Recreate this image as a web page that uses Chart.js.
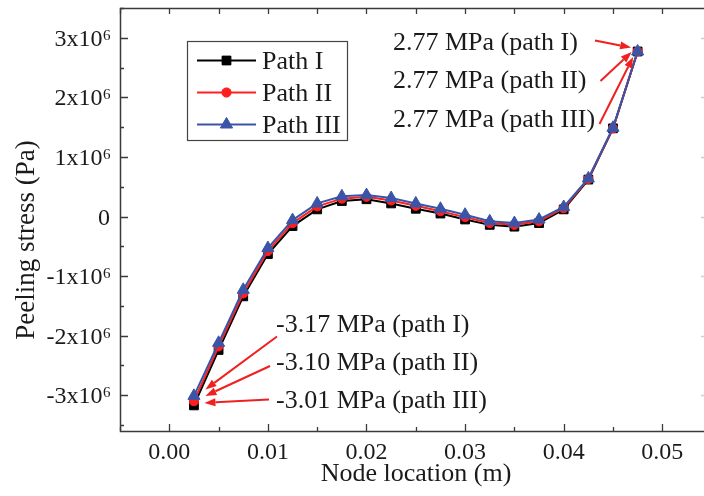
<!DOCTYPE html>
<html>
<head>
<meta charset="utf-8">
<script src="https://cdn.jsdelivr.net/npm/chart.js@4.4.1/dist/chart.umd.min.js"></script>
<style>
html,body{margin:0;padding:0;background:#fff;overflow:hidden;}
canvas{display:block;}
</style>
</head>
<body>
<canvas id="c" width="704" height="496"></canvas>
<script>
// ---- data ----
const nodeLocation = [0.0025, 0.005, 0.0075, 0.01, 0.0125, 0.015, 0.0175, 0.02, 0.0225, 0.025,
                      0.0275, 0.03, 0.0325, 0.035, 0.0375, 0.04, 0.0425, 0.045, 0.0475];
const pathI   = [-3.17e6, -2.24e6, -1.34e6, -0.63e6, -0.16e6, 0.12e6, 0.26e6, 0.29e6, 0.22e6, 0.13e6,
                  0.05e6, -0.05e6, -0.14e6, -0.17e6, -0.11e6, 0.12e6, 0.62e6, 1.48e6, 2.77e6];
const pathII  = [-3.10e6, -2.18e6, -1.29e6, -0.58e6, -0.11e6, 0.17e6, 0.30e6, 0.33e6, 0.27e6, 0.18e6,
                  0.09e6, -0.01e6, -0.11e6, -0.14e6, -0.08e6, 0.14e6, 0.63e6, 1.48e6, 2.77e6];
const pathIII = [-3.01e6, -2.12e6, -1.23e6, -0.53e6, -0.06e6, 0.22e6, 0.34e6, 0.36e6, 0.31e6, 0.22e6,
                  0.13e6, 0.03e6, -0.08e6, -0.11e6, -0.05e6, 0.16e6, 0.64e6, 1.49e6, 2.77e6];
const seriesNames = ['Path I', 'Path II', 'Path III'];
const xTickValues = [0, 0.01, 0.02, 0.03, 0.04, 0.05];
const xTickLabels = ['0.00', '0.01', '0.02', '0.03', '0.04', '0.05'];
const yTickValues = [-3e6, -2e6, -1e6, 0, 1e6, 2e6, 3e6];
const yTickLabels = ['-3x10^6', '-2x10^6', '-1x10^6', '0', '1x10^6', '2x10^6', '3x10^6'];
const xTitle = 'Node location (m)';
const yTitle = 'Peeling stress (Pa)';
const topNotes = ['2.77 MPa (path I)', '2.77 MPa (path II)', '2.77 MPa (path III)'];
const bottomNotes = ['-3.17 MPa (path I)', '-3.10 MPa (path II)', '-3.01 MPa (path III)'];

// ---- styles ----
const FONT = '"Liberation Serif", "Times New Roman", serif';
const TXT = '#1a1a1a';
const AX = '#3a3a3a';
const RED = '#f02020';
const colors = ['#000000', '#ff1f1f', '#3a55a8'];
const styles = [
  {pointStyle: 'rect', radius: 6.2},
  {pointStyle: 'circle', radius: 4.6},
  {pointStyle: 'triangle', radius: 7}
];
const seriesData = [pathI, pathII, pathIII];

function toPoints(ys) { return nodeLocation.map((x, i) => ({x: x, y: ys[i]})); }

const datasets = seriesData.map((ys, i) => ({
  label: seriesNames[i],
  data: toPoints(ys),
  borderColor: colors[i],
  backgroundColor: colors[i],
  pointBackgroundColor: colors[i],
  pointBorderColor: colors[i],
  borderWidth: 2,
  pointStyle: styles[i].pointStyle,
  pointRadius: styles[i].radius,
  pointBorderWidth: 1,
  tension: 0,
  order: 3 - i
}));

function arrow(ctx, x1, y1, x2, y2) {
  const ang = Math.atan2(y2 - y1, x2 - x1);
  const L = 11, W = 4;
  const bx = x2 - L * Math.cos(ang), by = y2 - L * Math.sin(ang);
  ctx.beginPath();
  ctx.moveTo(x1, y1);
  ctx.lineTo(bx, by);
  ctx.stroke();
  ctx.beginPath();
  ctx.moveTo(x2, y2);
  ctx.lineTo(bx + W * Math.sin(ang), by - W * Math.cos(ang));
  ctx.lineTo(bx - W * Math.sin(ang), by + W * Math.cos(ang));
  ctx.closePath();
  ctx.fill();
}

const decor = {
  id: 'decor',
  afterDatasetsDraw(chart) {
    const {ctx, chartArea: a, scales: {x, y}} = chart;
    ctx.save();
    // frame
    ctx.strokeStyle = AX;
    ctx.lineWidth = 1.5;
    ctx.beginPath();
    ctx.moveTo(a.right, a.top + 0.5);
    ctx.lineTo(a.left + 0.5, a.top + 0.5);
    ctx.lineTo(a.left + 0.5, a.bottom + 0.5);
    ctx.lineTo(a.right, a.bottom + 0.5);
    ctx.stroke();

    // inward ticks
    ctx.lineWidth = 1.3;
    ctx.beginPath();
    for (let i = -1; i <= 11; i++) {
      const v = i * 0.005;
      if (v < x.min - 1e-9 || v > x.max) continue;
      const px = Math.round(x.getPixelForValue(v)) + 0.5;
      const major = i % 2 === 0;
      ctx.moveTo(px, a.bottom);
      ctx.lineTo(px, a.bottom - (major ? 7 : 4));
      ctx.moveTo(px, a.top);
      ctx.lineTo(px, a.top + 6);
    }
    for (let i = -7; i <= 7; i++) {
      const v = i * 0.5e6;
      if (v < y.min || v > y.max + 1) continue;
      const py = Math.round(y.getPixelForValue(v)) + 0.5;
      const major = i % 2 === 0;
      ctx.moveTo(a.left, py);
      ctx.lineTo(a.left + (major ? 8 : 4), py);
    }
    ctx.stroke();
    // faint right-side ticks (axis cut at image edge)
    ctx.strokeStyle = '#cfcfcf';
    ctx.beginPath();
    for (let i = -6; i <= 6; i += 2) {
      const py = Math.round(y.getPixelForValue(i * 0.5e6)) + 0.5;
      ctx.moveTo(a.right, py);
      ctx.lineTo(a.right - 3, py);
    }
    ctx.stroke();

    // x tick labels
    ctx.fillStyle = TXT;
    ctx.font = '24px ' + FONT;
    ctx.textAlign = 'center';
    ctx.textBaseline = 'middle';
    xTickValues.forEach((v, i) => {
      ctx.fillText(xTickLabels[i], x.getPixelForValue(v), 452.5);
    });

    // y tick labels with superscript exponent
    ctx.textBaseline = 'alphabetic';
    ctx.textAlign = 'left';
    const rightEdge = 110;
    yTickValues.forEach((v, i) => {
      const py = y.getPixelForValue(v);
      const parts = yTickLabels[i].split('^');
      ctx.font = '24px ' + FONT;
      const w1 = ctx.measureText(parts[0]).width;
      let w2 = 0;
      if (parts[1]) { ctx.font = '15px ' + FONT; w2 = ctx.measureText(parts[1]).width; }
      const x0 = rightEdge - w1 - w2;
      ctx.font = '24px ' + FONT;
      ctx.fillText(parts[0], x0, py + 8);
      if (parts[1]) {
        ctx.font = '15px ' + FONT;
        ctx.fillText(parts[1], x0 + w1 + 0.5, py + 2);
      }
    });

    // axis titles
    ctx.font = '26px ' + FONT;
    ctx.textAlign = 'center';
    ctx.textBaseline = 'alphabetic';
    ctx.fillText(xTitle, 416, 481);
    ctx.save();
    ctx.translate(34, 240);
    ctx.rotate(-Math.PI / 2);
    ctx.font = '27px ' + FONT;
    ctx.fillText(yTitle, 0, 0);
    ctx.restore();

    // legend
    const lg = {l: 187.5, t: 41.5, r: 347.5, b: 140.5};
    ctx.fillStyle = '#ffffff';
    ctx.fillRect(lg.l, lg.t, lg.r - lg.l, lg.b - lg.t);
    ctx.strokeStyle = '#444';
    ctx.lineWidth = 1.2;
    ctx.strokeRect(lg.l, lg.t, lg.r - lg.l, lg.b - lg.t);
    const rows = [60.5, 92.5, 124.5];
    chart.data.datasets.forEach((ds, i) => {
      const ry = rows[i];
      ctx.strokeStyle = ds.borderColor;
      ctx.fillStyle = ds.backgroundColor;
      ctx.lineWidth = 2;
      ctx.beginPath();
      ctx.moveTo(197, ry);
      ctx.lineTo(256, ry);
      ctx.stroke();
      ctx.lineWidth = 1;
      Chart.helpers.drawPoint(ctx, {pointStyle: ds.pointStyle, radius: ds.pointRadius, rotation: 0, borderWidth: 1}, 226.5, ry);
      ctx.fill();
      ctx.fillStyle = TXT;
      ctx.font = '26px ' + FONT;
      ctx.textAlign = 'left';
      ctx.fillText(ds.label, 262, ry + 8.6);
    });

    // annotations
    ctx.fillStyle = TXT;
    ctx.font = '26px ' + FONT;
    ctx.textAlign = 'left';
    const topBase = [50, 88.3, 126.6];
    topNotes.forEach((t, i) => ctx.fillText(t, 393, topBase[i]));
    const botBase = [332, 370, 408];
    bottomNotes.forEach((t, i) => ctx.fillText(t, 276, botBase[i]));

    // arrows, anchored to the end data points via scales
    ctx.strokeStyle = RED;
    ctx.fillStyle = RED;
    ctx.lineWidth = 2;
    const n = nodeLocation.length - 1;
    const ex = x.getPixelForValue(nodeLocation[n]);
    const ey = y.getPixelForValue(pathI[n]);
    arrow(ctx, 595, 40.5, ex - 6.5, ey - 4);
    arrow(ctx, 600.5, 81, ex - 6, ey + 0.5);
    arrow(ctx, 599.5, 124, ex - 4.5, ey + 5.5);
    const sx = x.getPixelForValue(nodeLocation[0]);
    const sy1 = y.getPixelForValue(pathI[0]);
    arrow(ctx, 277, 336.5, sx + 11.5, sy1 - 16);
    arrow(ctx, 270, 366, sx + 11.5, sy1 - 9.5);
    arrow(ctx, 269, 399.5, sx + 10.5, sy1 - 2.5);

    ctx.restore();
  }
};

new Chart(document.getElementById('c'), {
  type: 'line',
  data: {datasets: datasets},
  options: {
    responsive: false,
    animation: false,
    layout: {autoPadding: false, padding: {left: 120, top: 8, right: 0, bottom: 65}},
    plugins: {legend: {display: false}, tooltip: {enabled: false}},
    scales: {
      x: {type: 'linear', display: false, min: -0.005, max: 0.05423},
      y: {type: 'linear', display: false, min: -3.6e6, max: 3.5e6}
    }
  },
  plugins: [decor]
});
</script>
</body>
</html>
